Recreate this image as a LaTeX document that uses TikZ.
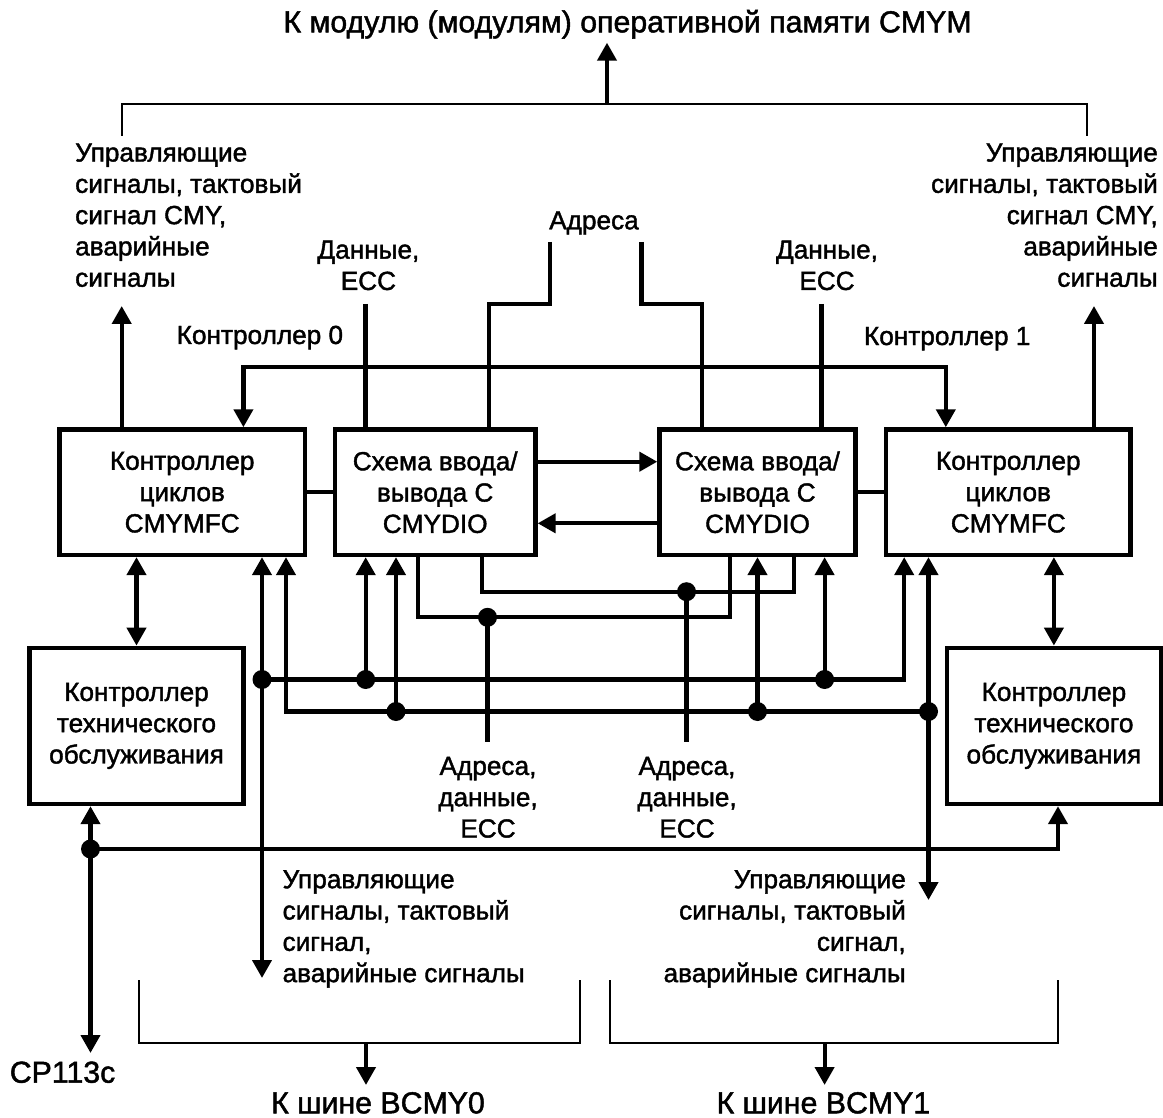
\documentclass[tikz,border=0pt]{standalone}
\usepackage{fontspec}
\setmainfont[FakeBold=1.5]{Liberation Sans}
\usetikzlibrary{arrows.meta}
\newcommand{\txtsmall}{\fontsize{26.2pt}{31.3pt}\selectfont}
\newcommand{\txtbig}{\fontsize{30.3pt}{36pt}\selectfont}
\begin{document}
\begin{tikzpicture}[x=1pt,y=-1pt,
  >={Triangle[length=18pt,width=19pt]},
  wire/.style={line width=4.2pt},
  thinwire/.style={line width=2.4pt},
  arr/.style={wire,->},
  darr/.style={wire,<->},
  block/.style={draw,line width=4.4pt,inner sep=0pt,align=center,font=\txtsmall},
  lbl/.style={inner sep=0pt,font=\txtsmall},
  big/.style={inner sep=0pt,font=\txtbig},
  dot/.style={circle,fill,inner sep=0pt,minimum size=19pt}
]
\useasboundingbox (0,0) rectangle (1163,1118);

% ---- blocks ----
\node[block,minimum width=245.5pt,minimum height=125.5pt] (mfcL) at (182.2,492.2) {Контроллер\\циклов\\CMYMFC};
\node[block,minimum width=200.5pt,minimum height=125.5pt] (dioL) at (435.2,492.2) {Схема ввода/\\вывода С\\CMYDIO};
\node[block,minimum width=196pt,minimum height=125.5pt] (dioR) at (757.5,492.2) {Схема ввода/\\вывода С\\CMYDIO};
\node[block,minimum width=244.2pt,minimum height=125.5pt] (mfcR) at (1008.3,492.2) {Контроллер\\циклов\\CMYMFC};
\node[block,minimum width=214pt,minimum height=156.2pt] (maintL) at (136.5,725.9) {Контроллер\\технического\\обслуживания};
\node[block,minimum width=214.3pt,minimum height=156.2pt] (maintR) at (1053.9,725.9) {Контроллер\\технического\\обслуживания};

% ---- memory bus at the top ----
\node[big,anchor=base] (title) at (627.5,32.3) {К модулю (модулям) оперативной памяти CMYM};
\coordinate (memroot) at (607,104);
\coordinate (memtip) at (607,42.7);
\coordinate (brTL) at (121.7,136);
\coordinate (brTR) at (1087,136);
\draw[thinwire] (brTL) |- (memroot) -| (brTR);
\draw[arr] (memroot) -- (memtip);

\node[lbl,anchor=north west,align=left] (ctlL) at (75,143.3) {Управляющие\\сигналы, тактовый\\сигнал CMY,\\аварийные\\сигналы};
\node[lbl,anchor=north east,align=right] (ctlR) at (1158,143.3) {Управляющие\\сигналы, тактовый\\сигнал CMY,\\аварийные\\сигналы};
\coordinate (ctlLtip) at (121.7,306);
\coordinate (ctlRtip) at (1094,306);
\draw[arr] (ctlLtip |- mfcL.north) -- (ctlLtip);
\draw[arr] (ctlRtip |- mfcR.north) -- (ctlRtip);

% ---- data and address lines ----
\node[lbl,anchor=north,align=center] (dataLblL) at (368.4,240.4) {Данные,\\ECC};
\node[lbl,anchor=north,align=center] (dataLblR) at (827,240.4) {Данные,\\ECC};
\coordinate (dataL) at (365.5,304);
\coordinate (dataR) at (821.5,304);
\draw[wire] (dataL) -- (dataL |- dioL.north);
\draw[wire] (dataR) -- (dataR |- dioR.north);

\node[lbl,anchor=base] (addrLbl) at (594,229.3) {Адреса};
\coordinate (addrL) at (550,242);
\coordinate (addrR) at (641.5,242);
\coordinate (addrLdrop) at (488.7,304);
\coordinate (addrRdrop) at (702,304);
\draw[wire] (addrL) |- (addrLdrop) -- (addrLdrop |- dioL.north);
\draw[wire] (addrR) |- (addrRdrop) -- (addrRdrop |- dioR.north);

% ---- controller link ----
\node[lbl,anchor=base west] (c0) at (176.5,344) {Контроллер 0};
\node[lbl,anchor=base west] (c1) at (863.8,345) {Контроллер 1};
\coordinate (cbusL) at (243.4,367);
\coordinate (cbusR) at (945.8,367);
\draw[darr] (cbusL |- mfcL.north) -- (cbusL) -- (cbusR) -- (cbusR |- mfcR.north);

% ---- links between blocks ----
\draw[wire] (mfcL.east) -- (dioL.west);
\draw[wire] (dioR.east) -- (mfcR.west);
\draw[arr] ([yshift=30.5pt]dioL.east) -- ([yshift=30.5pt]dioR.west);
\draw[arr] ([yshift=-31.1pt]dioR.west) -- ([yshift=-31.1pt]dioL.east);
\draw[darr] (maintL.north) -- (maintL.north |- mfcL.south);
\draw[darr] (maintR.north) -- (maintR.north |- mfcR.south);

% ---- first control bus ----
\coordinate (cL) at (262,978);
\node[dot] (j1) at (262,679.5) {};
\node[dot] (j2) at (365.7,679.5) {};
\node[dot] (j3) at (824.6,679.5) {};
\coordinate (b1end) at (904.2,679.5);
\draw[darr] (cL |- mfcL.south) -- (cL);
\draw[arr] (j1.center) -- (b1end) -- (b1end |- mfcR.south);
\draw[arr] (j2.center) -- (j2.center |- dioL.south);
\draw[arr] (j3.center) -- (j3.center |- dioR.south);

% ---- second control bus ----
\node[dot] (k1) at (396,711.5) {};
\node[dot] (k2) at (757.5,711.5) {};
\node[dot] (k3) at (928.5,711.5) {};
\coordinate (b2corner) at (286,711.5);
\coordinate (cR) at (928.5,900);
\draw[arr] (k3.center) -- (b2corner) -- (b2corner |- mfcL.south);
\draw[darr] (cR |- mfcR.south) -- (cR);
\draw[arr] (k1.center) -- (k1.center |- dioL.south);
\draw[arr] (k2.center) -- (k2.center |- dioR.south);

% ---- data paths between the I/O circuits ----
\coordinate (pa1) at (418.3,617.3);
\coordinate (pa2) at (730,617.3);
\coordinate (pb1) at (481.7,591.7);
\coordinate (pb2) at (794.3,591.7);
\draw[wire] (pa1 |- dioL.south) -- (pa1) -- (pa2) -- (pa2 |- dioR.south);
\draw[wire] (pb1 |- dioL.south) -- (pb1) -- (pb2) -- (pb2 |- dioR.south);
\node[dot] (m1) at (487.5,617.3) {};
\node[dot] (m2) at (686.5,591.7) {};
\coordinate (aL) at (487.5,742);
\coordinate (aR) at (686.5,742);
\draw[wire] (m1.center) -- (aL);
\draw[wire] (m2.center) -- (aR);
\node[lbl,anchor=north,align=center] (adLblL) at (488,756.7) {Адреса,\\данные,\\ECC};
\node[lbl,anchor=north,align=center] (adLblR) at (687,756.7) {Адреса,\\данные,\\ECC};

% ---- maintenance link ----
\coordinate (cpTip) at (90.5,1053);
\coordinate (cpEnd) at (1058,849);
\node[dot] (cpj) at (90.5,849) {};
\draw[darr] (cpTip |- maintL.south) -- (cpTip);
\draw[arr] (cpj.center) -- (cpEnd) -- (cpEnd |- maintR.south);
\node[big,anchor=base west] (cp) at (9.6,1082.7) {CP113c};

% ---- system buses at the bottom ----
\node[lbl,anchor=north west,align=left] (sigL) at (282.4,870) {Управляющие\\сигналы, тактовый\\сигнал,\\аварийные сигналы};
\node[lbl,anchor=north east,align=right] (sigR) at (906,870) {Управляющие\\сигналы, тактовый\\сигнал,\\аварийные сигналы};

\coordinate (bl1) at (139,980);
\coordinate (bl2) at (580,980);
\coordinate (blm) at (366,1043);
\coordinate (blt) at (366,1085);
\draw[thinwire] (bl1) |- (blm) -| (bl2);
\draw[arr] (blm) -- (blt);
\node[big,anchor=base] (bus0) at (378,1113.3) {К шине BCMY0};

\coordinate (br1) at (610,980);
\coordinate (br2) at (1058,980);
\coordinate (brm) at (824.6,1043);
\coordinate (brt) at (824.6,1085);
\draw[thinwire] (br1) |- (brm) -| (br2);
\draw[arr] (brm) -- (brt);
\node[big,anchor=base] (bus1) at (823.4,1113.3) {К шине BCMY1};
\end{tikzpicture}
\end{document}
